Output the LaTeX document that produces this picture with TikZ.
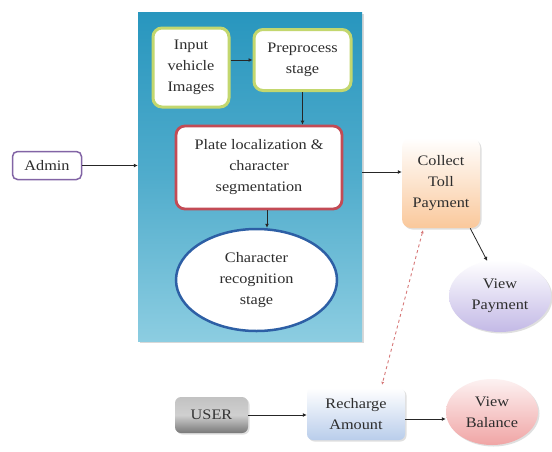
\documentclass[tikz,border=0pt]{standalone}
\usepackage{fontspec}
\setmainfont{Liberation Serif}[FakeStretch=1.12]
\usetikzlibrary{shapes.geometric,arrows.meta,calc,shadows}
\definecolor{txt}{RGB}{45,45,45}
\definecolor{bigtop}{RGB}{40,150,190}
\definecolor{bigbot}{RGB}{140,205,225}
\definecolor{greenb}{RGB}{195,215,110}
\definecolor{redb}{RGB}{195,75,85}
\definecolor{blueb}{RGB}{45,95,165}
\definecolor{purpb}{RGB}{130,100,165}
\definecolor{orangef}{RGB}{250,200,155}
\definecolor{lavf}{RGB}{195,185,230}
\definecolor{grayf}{RGB}{120,120,120}
\definecolor{bluef}{RGB}{185,205,235}
\definecolor{pinkf}{RGB}{240,165,165}
\definecolor{dashc}{RGB}{215,120,120}
\tikzset{
  box/.style={rounded corners=9pt, align=center, text=txt, font=\fontsize{14.5}{21}\selectfont, inner sep=2pt},
  greenbox/.style={box, draw=greenb, line width=3pt, fill=white},
  redbox/.style={box, draw=redb, line width=2.8pt, fill=white},
  softbox/.style={box, drop shadow={opacity=0.25, shadow xshift=1.5pt, shadow yshift=-1.5pt}},
  oval/.style={ellipse, align=center, text=txt, font=\fontsize{14.5}{21}\selectfont, inner sep=0pt},
  arr/.style={-{Latex[length=4pt,width=4pt]}, line width=0.8pt, draw=black!85},
}
\begin{document}
\begin{tikzpicture}[x=1pt,y=-1pt]
\useasboundingbox (0,0) rectangle (552,451);
\fill[white] (0,0) rectangle (552,451);
% big panel
\node[draw=none, top color=bigtop, bottom color=bigbot, middle color=bigtop!60!bigbot,
      minimum width=224pt, minimum height=329pt, inner sep=0pt,
      drop shadow={opacity=0.3, shadow xshift=1.5pt, shadow yshift=-1.5pt}] (big) at (250,176.5) {};
% inner nodes
\node[greenbox, minimum width=76pt, minimum height=79pt] (input) at (191,67.5) {Input\\vehicle\\Images};
\node[greenbox, minimum width=97pt, minimum height=61pt] (prep) at (302.5,60) {Preprocess\\stage};
\node[redbox, minimum width=166pt, minimum height=83pt] (plate) at (259,167.5) {Plate localization \&\\character\\segmentation};
\node[oval, draw=blueb, line width=2.5pt, fill=white, minimum width=161pt, minimum height=102pt] (charrec) at (256.5,280) {Character\\recognition\\stage};
% outside nodes
\node[box, draw=purpb, line width=1.5pt, fill=white, rounded corners=5pt, minimum width=69pt, minimum height=28pt] (admin) at (47,165.5) {Admin};
\node[softbox, top color=white, bottom color=orangef, minimum width=78pt, minimum height=90pt] (collect) at (441,183) {Collect\\Toll\\Payment};
\node[oval, top color=white, bottom color=lavf, minimum width=102pt, minimum height=72pt,
      drop shadow={opacity=0.25, shadow xshift=1.5pt, shadow yshift=-1.5pt}] (viewpay) at (500,296) {View\\Payment};
\node[softbox, top color=grayf!45, bottom color=grayf, middle color=grayf!35, rounded corners=6pt, minimum width=73pt, minimum height=36pt, text=black!80] (user) at (211.5,415) {USER};
\node[softbox, top color=white, bottom color=bluef, rounded corners=6pt, minimum width=98pt, minimum height=52pt] (recharge) at (356,414) {Recharge\\Amount};
\node[oval, top color=white!85!pinkf, bottom color=pinkf, minimum width=92pt, minimum height=66pt,
      drop shadow={opacity=0.25, shadow xshift=1.5pt, shadow yshift=-1.5pt}] (viewbal) at (492,412) {View\\Balance};
% connectors
\draw[arr] (input.east |- prep.west) -- (prep.west);
\draw[arr] (prep.south) -- (prep.south |- plate.north);
\draw[arr] (plate.south -| 267,0) -- (charrec.north -| 267,0);
\draw[arr] (admin.east) -- (admin.east -| big.west);
\draw[arr] ([yshift=11pt]collect.west -| big.east) -- ([yshift=11pt]collect.west);
\draw[arr] ([xshift=-10pt]collect.south east) -- (viewpay.110);
\draw[arr] (user.east) -- (user.east -| recharge.west);
\draw[arr] ([yshift=-5pt]recharge.east) -- ([yshift=-5pt]recharge.east -| viewbal.west);
\draw[dashed, draw=dashc, line width=0.9pt, {Latex[length=3pt,width=3pt]}-{Latex[length=3pt,width=3pt]}]
  ([xshift=-18pt,yshift=-2pt]collect.south) -- ([xshift=26pt,yshift=3pt]recharge.north);
\end{tikzpicture}
\end{document}
